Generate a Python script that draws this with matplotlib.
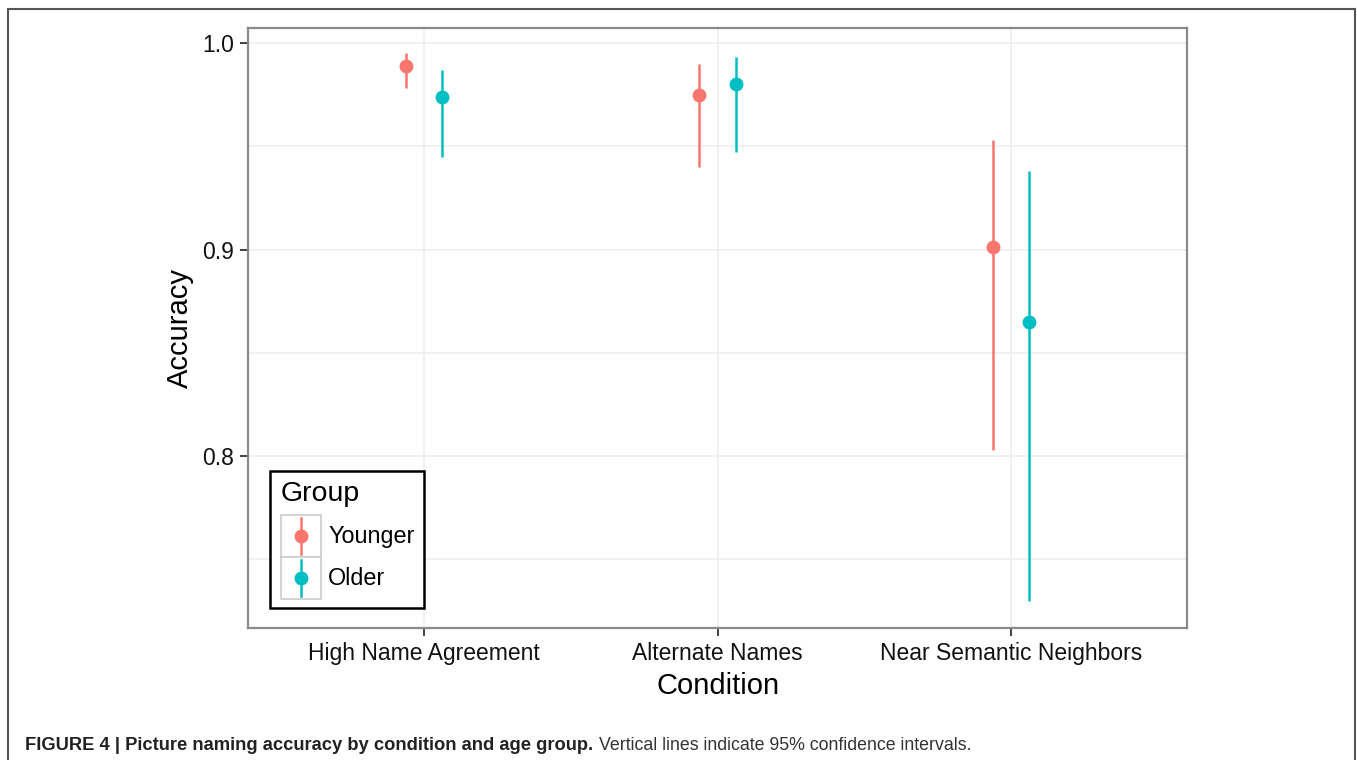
import matplotlib.pyplot as plt
from matplotlib.patches import Rectangle
from matplotlib.lines import Line2D

plt.rcParams['font.family'] = ['Liberation Sans', 'DejaVu Sans']

conditions = ['High Name Agreement', 'Alternate Names', 'Near Semantic Neighbors']
groups = ['Younger', 'Older']
colors = ['#F8766D', '#00BFC4']

# mean accuracy and 95% CI bounds per group, one value per condition
means = {'Younger': [0.989, 0.975, 0.901], 'Older': [0.974, 0.980, 0.865]}
ci_low = {'Younger': [0.978, 0.940, 0.803], 'Older': [0.945, 0.947, 0.730]}
ci_high = {'Younger': [0.995, 0.990, 0.953], 'Older': [0.987, 0.993, 0.938]}

yticks = [0.8, 0.9, 1.0]
yminor = [0.75, 0.85, 0.95]

fig = plt.figure(figsize=(13.57, 7.60), dpi=100)
ax = fig.add_axes([0.1828, 0.1737, 0.6920, 0.7895])

dodge = [-0.0625, 0.0625]
for g, col, d in zip(groups, colors, dodge):
    xs = [i + 1 + d for i in range(len(conditions))]
    ax.vlines(xs, ci_low[g], ci_high[g], color=col, lw=1.8, zorder=3)
    ax.plot(xs, means[g], 'o', color=col, ms=10, mec='none', zorder=4)

ax.set_xlim(0.4, 3.6)
ax.set_ylim(0.7167, 1.0073)
ax.set_xticks([1, 2, 3])
ax.set_xticklabels(conditions)
ax.set_yticks(yticks)
ax.set_yticklabels(['%.1f' % t for t in yticks])
ax.set_yticks(yminor, minor=True)
ax.tick_params(which='major', labelsize=16.5, length=6, width=1.3, color='#333333',
               labelcolor='#111111', pad=4)
ax.tick_params(which='minor', length=0)

ax.grid(which='both', color='#EFEFEF', lw=1.2)
ax.set_axisbelow(True)
for s in ax.spines.values():
    s.set_color('#8A8A8A')
    s.set_linewidth(1.6)

ax.set_xlabel('Condition', fontsize=21, labelpad=5)
ax.set_ylabel('Accuracy', fontsize=21, labelpad=6)

# legend box drawn in axes coordinates
tr = ax.transAxes
ax.add_patch(Rectangle((0.0234, 0.0333), 0.164, 0.2284, transform=tr, fill=True,
                       facecolor='white', edgecolor='black', lw=1.8, zorder=5))
ax.text(0.0351, 0.2233, 'Group', transform=tr, fontsize=20.5, va='center', ha='left', zorder=6)
key_y = [0.1533, 0.0833]
for g, col, ky in zip(groups, colors, key_y):
    ax.add_patch(Rectangle((0.0351, ky - 0.035), 0.0426, 0.07, transform=tr,
                           facecolor='white', edgecolor='#CCCCCC', lw=1.2, zorder=6))
    ax.add_line(Line2D([0.0564, 0.0564], [ky - 0.03, ky + 0.03], transform=tr,
                       color=col, lw=1.8, zorder=7))
    ax.plot([0.0564], [ky], 'o', transform=tr, color=col, ms=10, mec='none', zorder=8)
    ax.text(0.0852, ky, g, transform=tr, fontsize=16.8, va='center', ha='left', zorder=7)

# outer frame and caption
fig.add_artist(Rectangle((8 / 1357, -0.01), 1347 / 1357, 1 - 9 / 760 + 0.01,
                         transform=fig.transFigure, fill=False, edgecolor='#555555', lw=1.5))
cap = fig.text(25 / 1357, 1 - 745 / 760, 'FIGURE 4 | Picture naming accuracy by condition and age group.',
               fontsize=13.2, fontweight='bold', va='center', ha='left', color='#222222')
fig.canvas.draw()
bb = cap.get_window_extent()
fig.text(bb.x1 / 1357 + 0.004, 1 - 745 / 760, 'Vertical lines indicate 95% confidence intervals.',
         fontsize=12.8, va='center', ha='left', color='#333333')

fig.savefig('out.png', dpi=100)
